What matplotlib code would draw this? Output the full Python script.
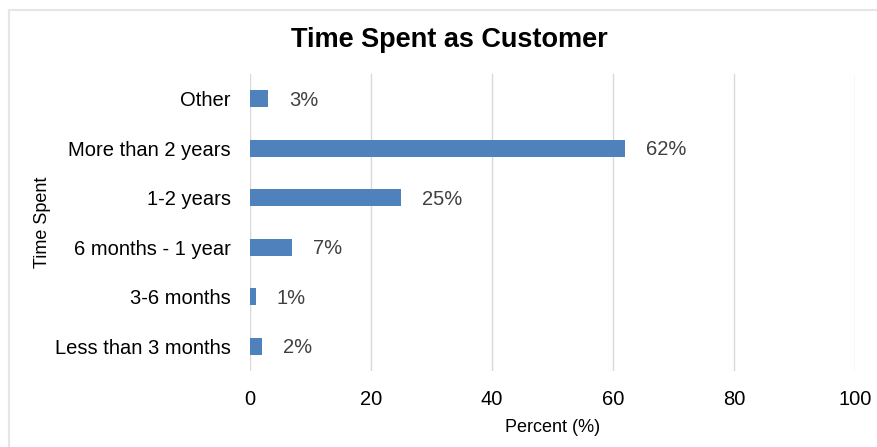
import matplotlib.pyplot as plt
from matplotlib.patches import Rectangle

plt.rcParams['font.family'] = ['Liberation Sans', 'DejaVu Sans']

categories = ["Less than 3 months", "3-6 months", "6 months - 1 year",
              "1-2 years", "More than 2 years", "Other"]
percent = [2, 1, 7, 25, 62, 3]
ticks = [0, 20, 40, 60, 80, 100]

fig = plt.figure(figsize=(8.78, 4.47), dpi=100)
ax = fig.add_axes([250 / 878, 1 - 371 / 447, 605 / 878, 297 / 447])

# outer chart frame (cut off at right and bottom)
fig.patches.append(Rectangle((9 / 878, -0.1), 1.2, 1 - 10 / 447 + 0.1,
                             transform=fig.transFigure, fill=False,
                             edgecolor='#e6e6e6', linewidth=1.5))

y = range(len(categories))
ax.barh(y, percent, height=0.35, color='#4f81bd', zorder=3)
for yi, v in zip(y, percent):
    ax.annotate(f"{v}%", (v, yi), xytext=(15, -1), textcoords='offset points',
                va='center', ha='left', fontsize=14.5, color='#404040')

ax.set_xlim(0, 100)
ax.set_ylim(-0.5, len(categories) - 0.5)
ax.set_xticks(ticks)
ax.set_yticks(list(y))
ax.set_yticklabels(categories)
ax.tick_params(axis='both', length=0, labelsize=14.5, colors='black')
ax.tick_params(axis='x', pad=14)
ax.tick_params(axis='y', pad=14)
ax.grid(axis='x', color='#d9d9d9', linewidth=1, zorder=0)
for s in ax.spines.values():
    s.set_visible(False)

ax.set_xlabel("Percent (%)", fontsize=13, labelpad=7)
ax.set_ylabel("Time Spent", fontsize=13, labelpad=3)
fig.text(449 / 878, 1 - 40 / 447, "Time Spent as Customer", ha='center',
         va='center', fontsize=19.5, fontweight='bold')

fig.savefig("out.png", dpi=100)
